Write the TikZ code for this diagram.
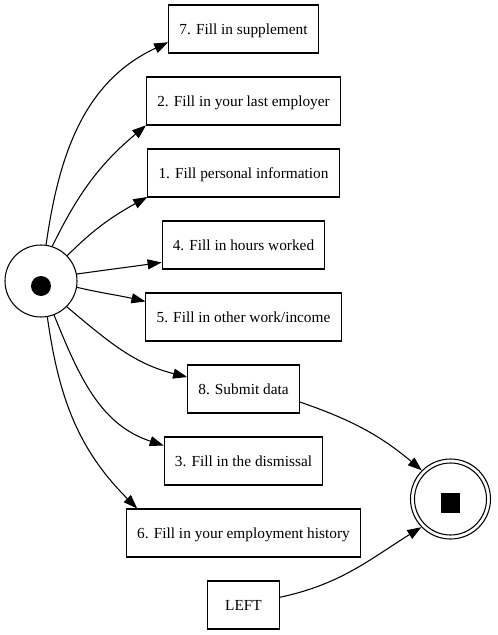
\documentclass[tikz,border=0pt]{standalone}
\usepackage{fontspec}
\setmainfont{Liberation Serif}
\usetikzlibrary{arrows.meta, positioning}

\tikzset{
  stepbox/.style={draw, rectangle, minimum height=36pt, minimum width=54pt,
    inner xsep=8pt, text depth=0pt, font=\fontsize{11.5}{14}\selectfont},
  ringnode/.style={draw, circle, inner sep=0pt},
}

\begin{document}
\begin{tikzpicture}[>={Triangle[length=10.5pt, width=7.5pt]}, x=0.75pt, y=-0.75pt, line width=0.8pt]
    \useasboundingbox (0,0) rectangle (498,635);

    % 1. Start and end nodes
    \node[ringnode, minimum size=54pt] (start) at (41,281) {};
    \node[circle, fill, minimum size=15pt, inner sep=0pt] (startdot) at ([yshift=-3.75pt]start.center) {};
    \node[ringnode, minimum size=60pt] (finish) at (450.5,499) {};
    \node[ringnode, minimum size=54pt] (finishin) at (finish) {};
    \node[fill, minimum size=14.6pt, inner sep=0pt] (finishsq) at ([yshift=-3pt]finish.center) {};

    % 2. Steps
    \foreach \nm/\txt [count=\i from 0] in {s7/{7. Fill in supplement},
        s2/{2. Fill in your last employer}, s1/{1. Fill personal information},
        s4/{4. Fill in hours worked}, s5/{5. Fill in other work/income},
        s8/{8. Submit data}, s3/{3. Fill in the dismissal},
        s6/{6. Fill in your employment history}, sL/{LEFT}} {
        \node[stepbox] (\nm) at (243.5, 29+72*\i) {\txt};
    }

    % 3. Edges from start
    \foreach \nm/\a/\o/\p/\b in {s7/82/82/205/190, s2/72/64/220/194, s1/44/45/209/194,
        s4/11/8/188/192, s5/350/347/167/171, s8/315/320/166/168,
        s3/291/292/162/169, s6/280/278/135/167} {
        \draw[->] (start.\a) to[out=\o, in=\p] (\nm.\b);
    }

    % 4. Edges to end
    \draw[->] (s8.347) to[out=-19, in=140] (finish.135);
    \draw[->] (sL.12) to[out=12, in=212] (finish.224);
\end{tikzpicture}
\end{document}
